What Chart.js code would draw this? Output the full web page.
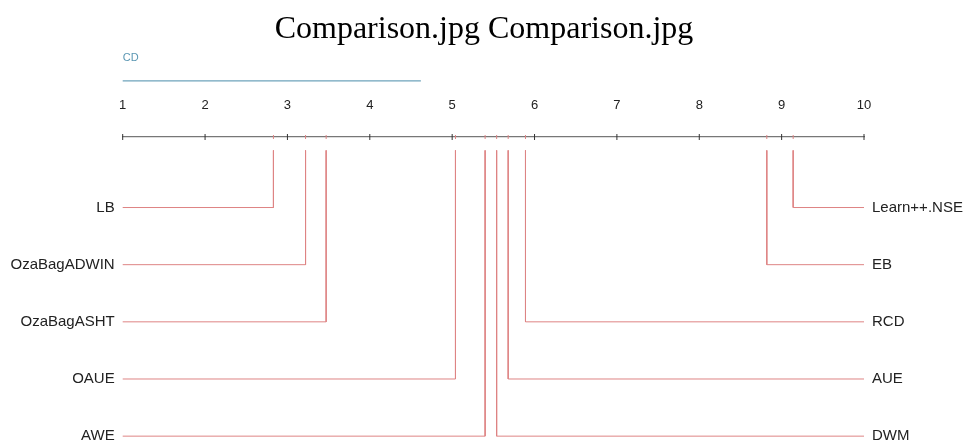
<!DOCTYPE html>
<html>
<head>
<meta charset="utf-8">
<title>CD diagram</title>
<script src="https://cdn.jsdelivr.net/npm/chart.js@4.4.1/dist/chart.umd.min.js"></script>
<style>
	html, body { margin: 0; padding: 0; background: #fff; }
	canvas { display: block; }
</style>
</head>
<body>
<canvas id="cdChart" width="968" height="445"></canvas>
<script>
// average ranks
const rankTicks = [1, 2, 3, 4, 5, 6, 7, 8, 9, 10];
const leftNames = ["LB", "OzaBagADWIN", "OzaBagASHT", "OAUE", "AWE"];
const leftRanks = [2.83, 3.22, 3.47, 5.04, 5.40];
const rightNames = ["Learn++.NSE", "EB", "RCD", "AUE", "DWM"];
const rightRanks = [9.14, 8.82, 5.89, 5.68, 5.54];
const rowIndex = [1, 2, 3, 4, 5];
const cdValue = 3.62;

// vertical layout in row units (y runs downward)
const AXIS_Y = -0.234;
const CD_Y = -1.216;
const Y_MAX = 5.064;

const red = "#de8484";
const blue = "#6ea3bb";
const labelFont = { family: "'Liberation Sans', Arial, sans-serif", size: 15 };

const datasets = [];

// elbow line for each method: from the axis down to its row, then out to the label
leftRanks.forEach((r, i) => {
	datasets.push({
		type: "line",
		data: [{ x: r, y: 0 }, { x: r, y: rowIndex[i] }, { x: rankTicks[0], y: rowIndex[i] }],
		borderColor: red, borderWidth: 1, pointRadius: 0, yAxisID: "yL", clip: false
	});
});
rightRanks.forEach((r, i) => {
	datasets.push({
		type: "line",
		data: [{ x: r, y: 0 }, { x: r, y: rowIndex[i] }, { x: rankTicks[rankTicks.length - 1], y: rowIndex[i] }],
		borderColor: red, borderWidth: 1, pointRadius: 0, yAxisID: "yR", clip: false
	});
});

// small red marks on the axis
datasets.push({
	type: "scatter",
	data: leftRanks.concat(rightRanks).map(r => ({ x: r, y: AXIS_Y })),
	pointStyle: "line", pointRotation: 90, pointRadius: 2, borderColor: red, borderWidth: 1,
	yAxisID: "yL", clip: false
});

// black integer ticks crossing the axis
datasets.push({
	type: "scatter",
	data: rankTicks.map(t => ({ x: t, y: AXIS_Y })),
	pointStyle: "line", pointRotation: 90, pointRadius: 3, borderColor: "#333", borderWidth: 1,
	yAxisID: "yL", clip: false
});

// critical difference bar
datasets.push({
	type: "line",
	data: [{ x: rankTicks[0], y: CD_Y }, { x: rankTicks[0] + cdValue, y: CD_Y }],
	borderColor: blue, borderWidth: 1.2,
	pointStyle: "line", pointRotation: 90, pointRadius: 3, pointBorderColor: blue, pointBorderWidth: 1.2,
	yAxisID: "yL", clip: false
});

const cdLabel = {
	id: "cdLabel",
	afterDatasetsDraw(chart) {
		const { ctx, scales } = chart;
		ctx.save();
		ctx.fillStyle = "#5b97b3";
		ctx.font = "11px 'Liberation Sans', Arial, sans-serif";
		ctx.textAlign = "left";
		ctx.textBaseline = "middle";
		ctx.fillText("CD", scales.x.getPixelForValue(rankTicks[0]), scales.yL.getPixelForValue(CD_Y) - 23);
		ctx.restore();
	}
};

const yAxis = (position, names) => ({
	type: "linear",
	position,
	reverse: true,
	min: AXIS_Y,
	max: Y_MAX,
	afterBuildTicks: scale => { scale.ticks = rowIndex.map(v => ({ value: v })); },
	afterFit: scale => {
		scale.width = position === "left" ? 122.7 : 104;
		scale.paddingTop = 0;
		scale.paddingBottom = 0;
	},
	grid: { display: false },
	border: { display: false },
	ticks: {
		padding: 0,
		color: "#222",
		font: labelFont,
		callback: v => names[rowIndex.indexOf(v)] ?? ""
	}
});

new Chart(document.getElementById("cdChart"), {
	type: "line",
	data: { datasets },
	options: {
		responsive: false,
		animation: false,
		layout: { padding: 0 },
		plugins: {
			legend: { display: false },
			tooltip: { enabled: false },
			title: {
				display: true,
				text: "Comparison.jpg Comparison.jpg",
				color: "#000",
				font: { family: "'Liberation Serif', 'Times New Roman', serif", size: 32, weight: "normal" },
				padding: { top: 10, bottom: 0 }
			}
		},
		scales: {
			x: {
				type: "linear",
				position: "top",
				min: rankTicks[0],
				max: rankTicks[rankTicks.length - 1],
				afterBuildTicks: scale => { scale.ticks = rankTicks.map(v => ({ value: v })); },
				afterFit: scale => {
					scale.height = 88.6;
					scale.paddingLeft = 0;
					scale.paddingRight = 0;
				},
				grid: { display: false },
				border: { display: true, color: "#777", width: 1.2 },
				ticks: { padding: 15.5, color: "#222", font: { family: labelFont.family, size: 13 }, maxRotation: 0 }
			},
			yL: yAxis("left", leftNames),
			yR: yAxis("right", rightNames)
		}
	},
	plugins: [cdLabel]
});
</script>
</body>
</html>
